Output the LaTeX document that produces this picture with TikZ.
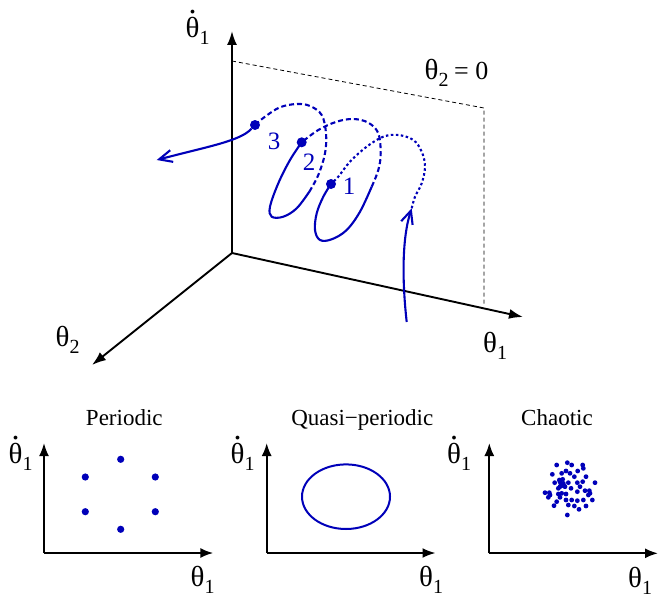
\documentclass[tikz,border=0pt]{standalone}
\usepackage{fontspec}
\setmainfont{Liberation Serif}
\usetikzlibrary{arrows.meta,shapes.geometric}
\definecolor{traj}{RGB}{0,0,185}
\newcommand\thsym{{\fontsize{29}{29}\selectfont θ}}
\newcommand\subsc[1]{\raisebox{-7pt}{\fontsize{20}{20}\selectfont #1}}
\newcommand\thdot{\ooalign{\thsym\cr\hidewidth\raisebox{24pt}{\fontsize{32}{32}\selectfont .}\hidewidth\cr}}
\begin{document}
\begin{tikzpicture}[x=1pt,y=-1pt,
  axisline/.style={line width=1.9pt,-{Latex[length=14pt,width=10pt]}},
  smallaxis/.style={line width=1.9pt,-{Latex[length=13pt,width=10pt]}},
  planedash/.style={line width=0.8pt,dash pattern=on 4pt off 3pt},
  trajsolid/.style={traj,line width=2.1pt},
  trajdash/.style={traj,line width=2.1pt,dash pattern=on 5pt off 3pt},
  trajdot/.style={traj,line width=2.1pt,dash pattern=on 2.5pt off 2.5pt},
  barb/.style={-{Straight Barb[length=13pt,width=12pt]}},
  bigdot/.style={circle,fill=traj,inner sep=0pt,minimum size=10pt},
  pdot/.style={circle,fill=traj,inner sep=0pt,minimum size=7.2pt},
  lab/.style={anchor=base west,inner sep=0pt},
  title/.style={anchor=base,inner sep=0pt,font=\fontsize{23}{23}\selectfont},
  numlab/.style={traj,inner sep=0pt,font=\fontsize{25}{25}\selectfont}]
\useasboundingbox (0,0) rectangle (658,594);

% ---------- 3D axes ----------
\coordinate (O) at (232,253);
\coordinate (Ztip) at (232,31);
\coordinate (Xtip) at (523,317);
\coordinate (Ytip) at (92,365);
\coordinate (P0) at (232,61);
\coordinate (P1) at (484,108);
\coordinate (P2) at (484,304);
\draw[planedash] (P0) -- (P1) -- (P2);
\draw[axisline] (O) -- (Ztip);
\draw[axisline] (O) -- (Xtip);
\draw[axisline] (O) -- (Ytip);

\node[lab] (lz) at (185.5,37.5) {\thdot\subsc{1}};
\node[lab] (lx) at (483,352.5) {\thsym\subsc{1}};
\node[lab] (ly) at (55.5,346) {\thsym\subsc{2}};
\node[lab] (lplane) at (424.5,79.5) {\thsym\subsc{2}};
\node[lab,font=\fontsize{26}{26}\selectfont] (lzero) at (454,79.5) {= 0};

% ---------- trajectory ----------
\node[bigdot] (d1) at (331,184) {};
\node[bigdot] (d2) at (301.7,142.3) {};
\node[bigdot] (d3) at (255,125) {};
\coordinate (inStart) at (406.7,322);
\coordinate (inTip) at (411.7,208.3);
\coordinate (outTip) at (156.7,160);
\coordinate (c1) at (371.7,186.7);
\coordinate (c2) at (309.3,191.7);

\draw[trajsolid,barb] (inStart) .. controls (402,280) and (402,238) .. (inTip);
\draw[trajdot] plot[smooth,tension=0.6] coordinates {(inTip) (415,196.7) (421.7,183.3) (425,166.7) (421.7,151.7) (413.3,140) (398.3,135) (383.3,136.7) (366.7,146.7) (350,161.7) (338.3,176.7) (d1)};
\draw[trajsolid] plot[smooth,tension=0.6] coordinates {(d1) (323.3,196.7) (316.7,213.3) (315,230) (320,240) (331.7,239.3) (346.7,230) (360,211.7) (c1)};
\draw[trajdash] plot[smooth,tension=0.6] coordinates {(c1) (378.3,170) (380.7,153.3) (378.3,133.3) (368.3,122.7) (353.3,119) (336.7,121.7) (318.3,130) (d2)};
\draw[trajsolid] plot[smooth,tension=0.6] coordinates {(d2) (290,160) (278.3,183.3) (270,206.7) (271.7,216.7) (283.3,216.7) (296.7,208.3) (c2)};
\draw[trajdash] plot[smooth,tension=0.6] coordinates {(c2) (318.3,175) (325,153.3) (326,133.3) (321.7,115) (310,106) (296.7,104) (280,107.3) (265,116.7) (d3)};
\draw[trajsolid,barb] (d3) .. controls (240,141) and (210,146) .. (outTip);

\node[numlab] (n3) at (274,141.5) {3};
\node[numlab] (n2) at (309,162.5) {2};
\node[numlab] (n1) at (349,186.5) {1};

% ---------- Periodic ----------
\coordinate (aO) at (44,553);
\coordinate (aY) at (44,443);
\coordinate (aX) at (213.3,553);
\draw[smallaxis] (aO) -- (aY);
\draw[smallaxis] (aO) -- (aX);
\node[title] (t1) at (124.3,425) {Periodic};
\node[lab] (a1y) at (8.5,463) {\thdot\subsc{1}};
\node[lab] (a1x) at (190.5,586) {\thsym\subsc{1}};
\node[pdot] (p1) at (120.7,459.3) {};
\node[pdot] (p2) at (85.3,477) {};
\node[pdot] (p3) at (155.3,477) {};
\node[pdot] (p4) at (85.3,511.7) {};
\node[pdot] (p5) at (155.3,511.7) {};
\node[pdot] (p6) at (120.7,529.3) {};

% ---------- Quasi-periodic ----------
\coordinate (bO) at (266.7,553);
\coordinate (bY) at (266.7,443);
\coordinate (bX) at (435.5,553);
\draw[smallaxis] (bO) -- (bY);
\draw[smallaxis] (bO) -- (bX);
\node[title] (t2) at (362.3,425) {Quasi−periodic};
\node[lab] (b1y) at (230.5,463) {\thdot\subsc{1}};
\node[lab] (b1x) at (419,586) {\thsym\subsc{1}};
\node[draw=traj,line width=2pt,ellipse,inner sep=0pt,minimum width=88pt,minimum height=64.6pt] (ell) at (346,496.7) {};

% ---------- Chaotic ----------
\coordinate (cO) at (489.3,553.3);
\coordinate (cY) at (489.3,443);
\coordinate (cX) at (658,553.3);
\draw[smallaxis] (cO) -- (cY);
\draw[smallaxis] (cO) -- (cX);
\node[title] (t3) at (557,425) {Chaotic};
\node[lab] (c1y) at (447,463) {\thdot\subsc{1}};
\node[lab] (c1x) at (628,587) {\thsym\subsc{1}};
\foreach \a/\b in {262/68,275/75,308/75,310/85,230/75,217/103,245/100,258/93,293/93,283/110,318/110,224/128,240/125,250/130,265/128,292/128,308/125,345/128,240/140,255/140,235/145,273/145,195/158,208/158,245/160,258/162,292/155,315/152,328/152,325/165,205/172,240/172,258/180,275/180,292/182,310/180,337/180,230/185,222/197,283/198,297/208,318/198,262/225,245/135,248/118,270/100,300/140,235/162,210/165,330/160,265/195,242/130,252/138,238/120}
  \fill[traj] ({480+\a/3},{440+\b/3}) circle (2.4pt);
\end{tikzpicture}
\end{document}
